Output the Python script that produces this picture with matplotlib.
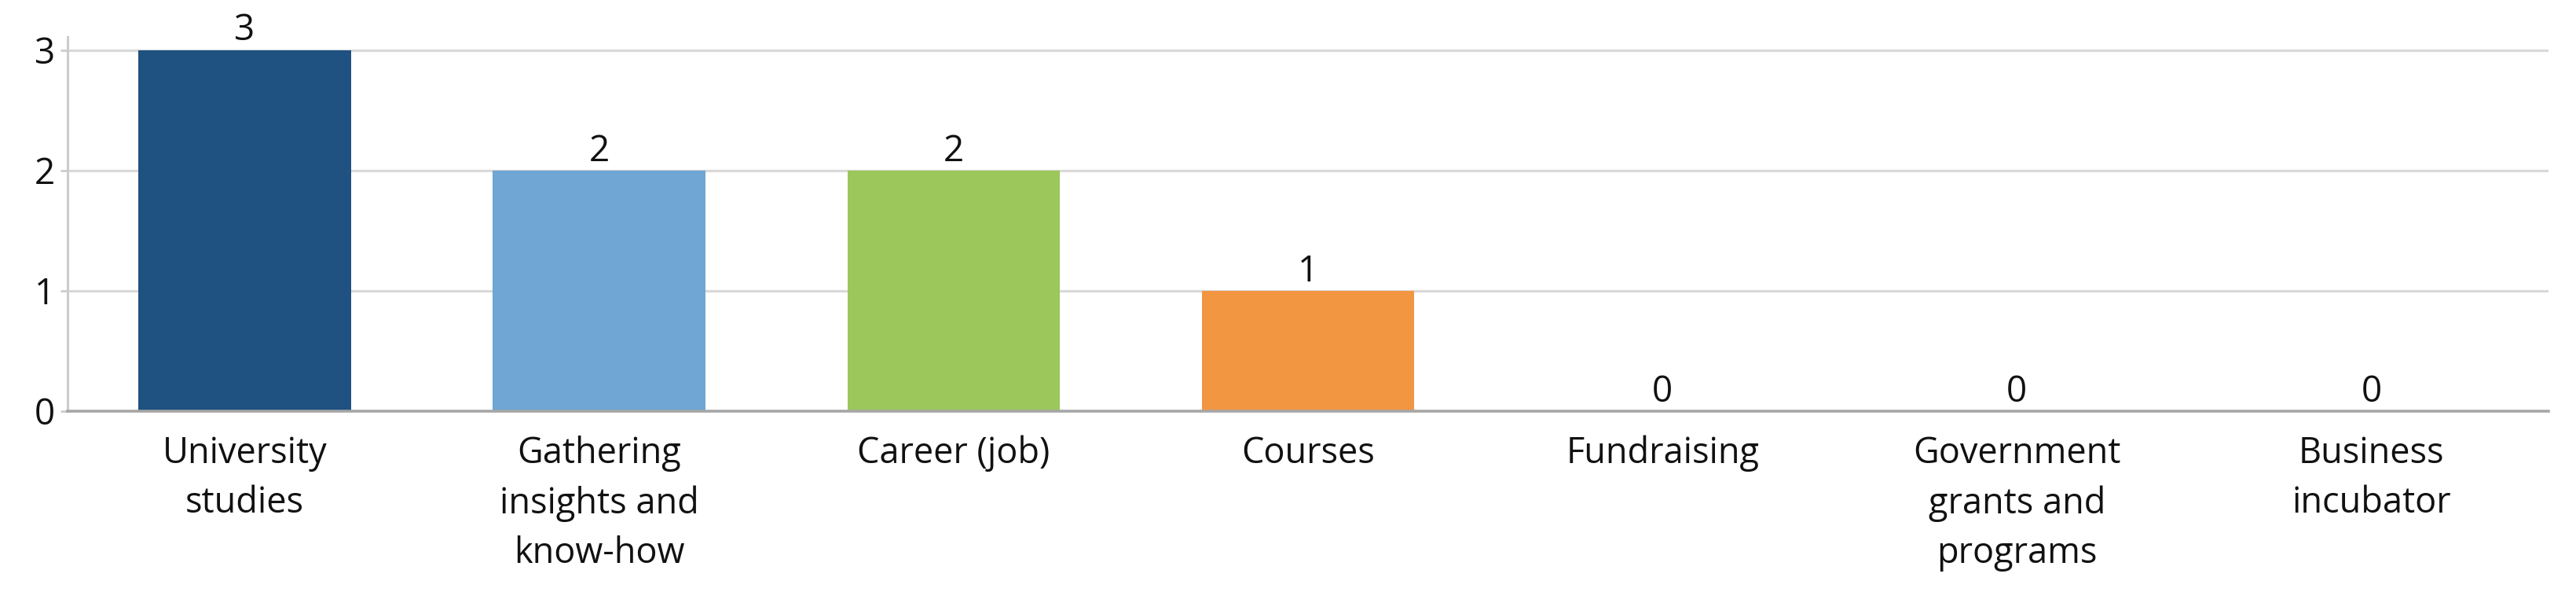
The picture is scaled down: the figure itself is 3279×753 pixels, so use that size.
import matplotlib
matplotlib.use("Agg")
import matplotlib.pyplot as plt

plt.rcParams["font.family"] = ["Open Sans", "DejaVu Sans"]

categories = [
    "University\nstudies",
    "Gathering\ninsights and\nknow-how",
    "Career (job)",
    "Courses",
    "Fundraising",
    "Government\ngrants and\nprograms",
    "Business\nincubator",
]
values = [3, 2, 2, 1, 0, 0, 0]
colors = ["#1F5181", "#6FA6D3", "#9BC75B", "#F29641", "#F29641", "#F29641", "#F29641"]
y_ticks = [0, 1, 2, 3]


def main():
    fig = plt.figure(figsize=(32.8, 7.53), dpi=100)
    ax = fig.add_axes([86 / 3280, 1 - 523 / 753, (3244 - 86) / 3280, (523 - 47) / 753])

    x = list(range(len(categories)))
    bars = ax.bar(x, values, width=0.6, color=colors, zorder=2)

    for b, v in zip(bars, values):
        ax.annotate(str(v), (b.get_x() + b.get_width() / 2, v),
                    xytext=(0, 1), textcoords="offset points",
                    ha="center", va="bottom", fontsize=33, color="#111111")

    ax.set_xlim(-0.5, len(categories) - 0.5)
    ax.set_ylim(0, 3.11)
    ax.set_yticks(y_ticks)
    ax.set_xticks(x)
    ax.set_xticklabels(categories, fontsize=32.5, color="#111111", linespacing=1.5)
    ax.tick_params(axis="x", length=0, pad=22)
    ax.tick_params(axis="y", length=6.5, width=2, color="#CCCCCC",
                   labelsize=33, labelcolor="#111111", pad=5)

    ax.grid(axis="y", color="#D9D9D9", linewidth=2.3, zorder=0)
    ax.set_axisbelow(True)

    for s in ["top", "right"]:
        ax.spines[s].set_visible(False)
    ax.spines["left"].set_color("#CCCCCC")
    ax.spines["left"].set_linewidth(2.2)
    ax.spines["bottom"].set_color("#A6A6A6")
    ax.spines["bottom"].set_linewidth(2.6)
    ax.spines["bottom"].set_zorder(3)

    fig.savefig("out.png", dpi=100)


if __name__ == "__main__":
    main()
